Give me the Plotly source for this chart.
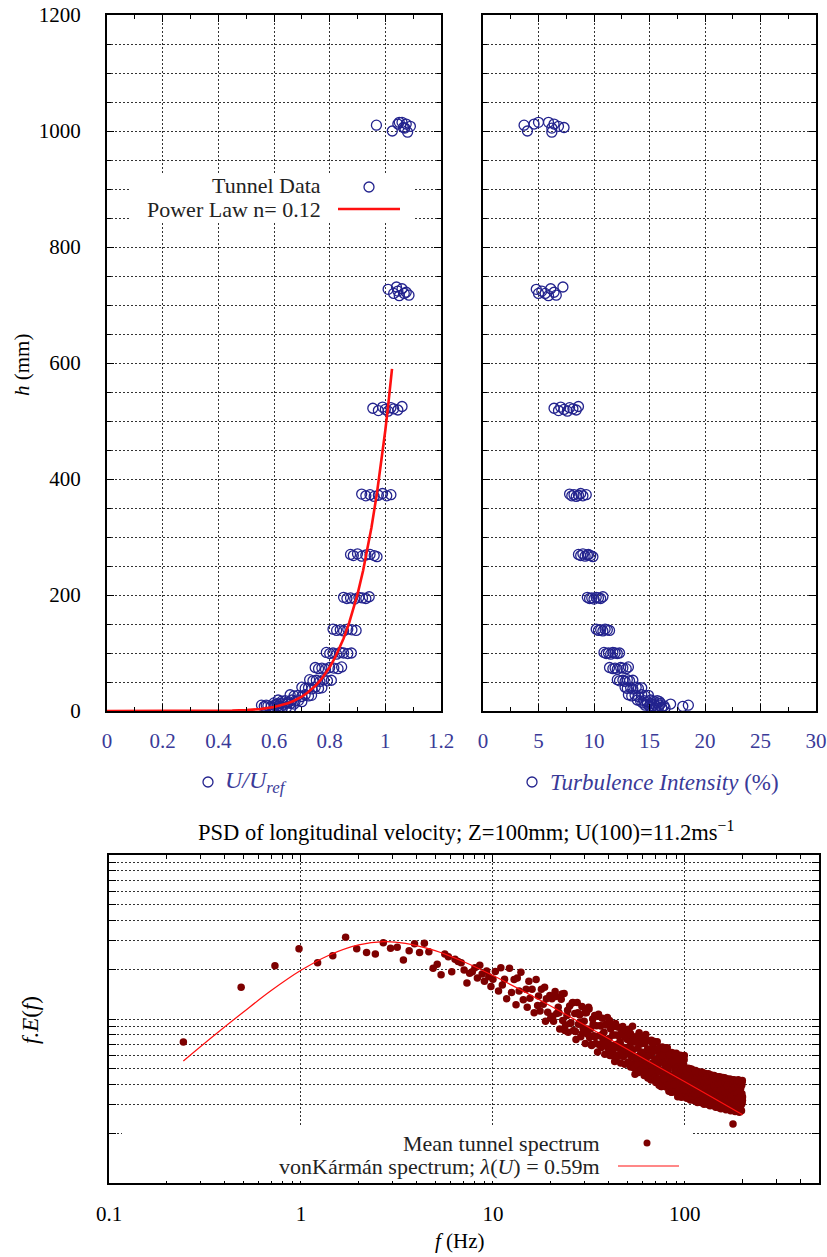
import plotly.graph_objects as go

W, H = 827, 1257
FONT = "Liberation Serif"
BLUE_MK = "#23238e"
BLUE_TX = "#3a3a98"
RED = "#ff1010"
MAROON = "#7d0000"
GRID = "#333333"

# ---------------- Top panels: tunnel profile data ----------------
h_mm = [1010, 1000, 1012, 1015, 1015, 1005, 1012, 998, 1008, 1006,
        727, 720, 724, 716, 728, 722, 717, 731, 720,
        522, 518, 524, 520, 517, 523, 521, 519, 525,
        374, 371, 373, 370, 372, 375, 371, 373,
        270, 268, 271, 267, 269, 270, 268, 266,
        196, 194, 195, 193, 196, 195, 194, 197,
        141, 139, 140, 138, 141, 140, 139,
        101, 99, 100, 98, 101, 100, 99, 100,
        75, 73, 74, 72, 75, 74, 73, 76,
        54, 52, 53, 51, 54, 52, 53,
        41, 39, 40, 38, 41, 39, 40,
        28, 26, 27, 25, 28, 26, 27,
        19, 17, 18, 16, 19, 17, 18, 16,
        14, 12, 13, 12, 14, 13, 12,
        10, 8, 9, 8, 10, 9, 8, 10,
        6, 4, 5, 6, 5]
U_ratio = [0.968, 1.025, 1.045, 1.050, 1.060, 1.070, 1.075, 1.080, 1.090, 1.065,
           1.010, 1.030, 1.045, 1.050, 1.060, 1.075, 1.085, 1.040, 1.068,
           0.955, 0.975, 0.990, 1.000, 1.010, 1.020, 1.030, 1.045, 1.060,
           0.915, 0.930, 0.945, 0.960, 0.975, 0.990, 1.005, 1.020,
           0.875, 0.885, 0.900, 0.915, 0.930, 0.945, 0.960, 0.970,
           0.850, 0.862, 0.875, 0.890, 0.905, 0.918, 0.930, 0.942,
           0.812, 0.825, 0.838, 0.850, 0.865, 0.880, 0.895,
           0.788, 0.800, 0.812, 0.825, 0.838, 0.850, 0.865, 0.878,
           0.748, 0.760, 0.772, 0.785, 0.800, 0.815, 0.830, 0.843,
           0.728, 0.740, 0.752, 0.765, 0.778, 0.792, 0.806,
           0.700, 0.712, 0.724, 0.736, 0.748, 0.760, 0.772,
           0.658, 0.672, 0.686, 0.700, 0.712, 0.724, 0.735,
           0.615, 0.628, 0.640, 0.652, 0.664, 0.676, 0.688, 0.700,
           0.600, 0.612, 0.624, 0.636, 0.648, 0.660, 0.672,
           0.555, 0.565, 0.578, 0.590, 0.602, 0.614, 0.626, 0.572,
           0.600, 0.615, 0.630, 0.645, 0.660]
TI_pct = [3.7, 4.0, 4.6, 5.0, 5.9, 6.2, 6.4, 6.2, 6.8, 7.3,
          4.8, 5.0, 5.3, 5.9, 6.1, 6.4, 6.6, 7.2, 5.6,
          6.4, 6.8, 7.0, 7.3, 7.6, 7.8, 8.1, 8.4, 8.6,
          7.8, 8.0, 8.2, 8.4, 8.6, 8.8, 9.0, 9.3,
          8.6, 8.8, 9.0, 9.2, 9.4, 9.5, 9.7, 9.9,
          9.4, 9.6, 9.8, 10.0, 10.2, 10.4, 10.6, 10.8,
          10.2, 10.4, 10.6, 10.8, 11.0, 11.2, 11.4,
          10.9, 11.1, 11.3, 11.5, 11.7, 11.9, 12.1, 12.3,
          11.4, 11.7, 11.9, 12.1, 12.4, 12.6, 12.9, 13.1,
          12.1, 12.3, 12.6, 12.8, 13.0, 13.2, 13.5,
          12.8, 13.0, 13.3, 13.5, 13.8, 14.0, 14.3,
          13.1, 13.4, 13.7, 14.0, 14.3, 14.6, 14.9,
          13.9, 14.2, 14.5, 14.8, 15.1, 15.4, 15.7, 15.9,
          14.4, 14.8, 15.1, 15.4, 15.7, 16.0, 16.9,
          14.6, 15.0, 15.3, 15.6, 15.9, 16.3, 18.0, 18.5,
          15.2, 15.5, 15.8, 16.1, 16.4]

# Power law fit (n = 0.12)
pl_U = [0, 0.2, 0.3, 0.4, 0.45, 0.5, 0.55, 0.6, 0.62, 0.65, 0.67, 0.7, 0.72, 0.75,
        0.77, 0.8, 0.82, 0.85, 0.87, 0.9, 0.92, 0.95, 0.97, 0.99, 1.0, 1.01, 1.024]
pl_h = [0, 0.001, 0.02, 0.23, 0.63, 1.5, 3.3, 6.9, 9.0, 13.4, 17.2, 24.8, 31.4, 44,
        54.9, 75.5, 92.7, 125, 151.8, 201, 241.7, 316, 375.8, 445.4, 484, 526, 590]

# ---------------- Bottom panel: spectrum ----------------
spec_f_lo = [0.244, 0.488, 0.732, 0.977, 1.221, 1.465, 1.709, 1.953, 2.197, 2.441,
             2.686, 2.930, 3.174, 3.418, 3.662, 3.906, 4.150, 4.395, 4.639, 4.883,
             5.127, 5.371, 5.615, 5.859, 6.104, 6.348, 6.592, 6.836, 7.080, 7.324,
             7.568, 7.813, 8.057, 8.301, 8.545, 8.789, 9.033, 9.277, 9.521, 9.766, 10.01]
spec_v_lo = [.0724, .156, .211, .268, .220, .243, .315, .268, .254, .249,
             .292, .270, .274, .229, .261, .288, .254, .290, .257, .204,
             .216, .186, .249, .240, .194, .231, .224, .220, .199, .166,
             .190, .194, .205, .178, .213, .188, .170, .196, .181, .158, .175]

spec_f_10 = [10.3, 10.7, 11.0, 11.2, 11.5, 11.8, 12.2, 12.5, 12.9, 13.2,
             13.4, 13.7, 14.0, 14.4, 14.9, 15.1, 15.4, 15.6, 16.0, 16.4,
             16.8, 17.1, 17.3, 17.6, 17.9, 18.3, 18.6, 18.8, 19.0, 19.3, 19.8, 20.0]
spec_v_10 = [.195, .148, .205, .161, .175, .133, .204, .145, .174, .122,
             .178, .148, .193, .131, .152, .118, .170, .134, .152, .109,
             .174, .121, .138, .112, .152, .123, .156, .097, .133, .110, .139, .101]

spec_f_20 = [20.3, 20.7, 21.1, 21.5, 21.9, 22.3, 22.7, 23.1, 23.5, 23.9,
             24.3, 24.7, 25.1, 25.5, 25.9, 26.3, 26.7, 27.1, 27.5, 27.9,
             28.3, 28.7, 29.1, 29.5, 29.9, 30.3, 30.7, 31.1, 31.5, 31.9,
             32.3, 32.7, 33.1, 33.5, 33.9, 34.3, 34.7, 35.1, 35.5, 35.9,
             36.3, 36.7, 37.1, 37.5, 37.9, 38.3, 38.7, 39.1, 39.5, 39.9,
             40.3, 40.7, 41.1, 41.5, 41.9, 42.3, 42.7, 43.1, 43.5, 43.9,
             44.3, 44.7, 45.1, 45.5, 45.9, 46.3, 46.7, 47.1, 47.5, 47.9,
             48.3, 48.7, 49.1, 49.5, 49.9,
             20.5, 21.3, 22.1, 22.9, 23.7, 24.5, 25.3, 26.1, 26.9, 27.7,
             28.5, 29.3, 30.1, 30.9, 31.7, 32.5, 33.3, 34.1, 34.9, 35.7,
             36.5, 37.3, 38.1, 38.9, 39.7, 40.5, 41.3, 42.1, 42.9, 43.7,
             44.5, 45.3, 46.1, 46.9, 47.7, 48.5, 49.3]
spec_v_20 = [.133, .097, .147, .108, .118, .087, .132, .098, .143, .092,
             .105, .083, .120, .095, .125, .085, .108, .075, .126, .093,
             .106, .078, .119, .088, .097, .071, .109, .081, .118, .077,
             .087, .069, .100, .079, .105, .071, .091, .063, .107, .079,
             .091, .067, .101, .075, .083, .061, .093, .069, .102, .066,
             .076, .060, .087, .069, .092, .062, .080, .055, .094, .070,
             .080, .059, .089, .066, .073, .054, .082, .061, .090, .059,
             .067, .053, .077, .061, .081,
             .104, .137, .109, .142, .085, .113, .094, .126, .084, .109,
             .096, .082, .109, .087, .115, .070, .093, .078, .104, .070,
             .091, .081, .069, .092, .074, .098, .060, .080, .067, .090,
             .060, .079, .071, .060, .081, .065, .086]

spec_f_50 = [50.2, 50.6, 51.0, 51.4, 51.8, 52.2, 52.6, 53.0, 53.4, 53.8, 54.2, 54.6,
             55.0, 55.4, 55.8, 56.2, 56.6, 57.0, 57.4, 57.8, 58.2, 58.6, 59.0, 59.4, 59.8,
             60.2, 60.6, 61.0, 61.4, 61.8, 62.2, 62.6, 63.0, 63.4, 63.8, 64.2, 64.6,
             65.0, 65.4, 65.8, 66.2, 66.6, 67.0, 67.4, 67.8, 68.2, 68.6, 69.0, 69.4, 69.8,
             70.2, 70.6, 71.0, 71.4, 71.8, 72.2, 72.6, 73.0, 73.4, 73.8, 74.2, 74.6,
             75.0, 75.4, 75.8, 76.2, 76.6, 77.0, 77.4, 77.8, 78.2, 78.6, 79.0, 79.4, 79.8,
             80.2, 80.6, 81.0, 81.4, 81.8, 82.2, 82.6, 83.0, 83.4, 83.8, 84.2, 84.6,
             85.0, 85.4, 85.8, 86.2, 86.6, 87.0, 87.4, 87.8, 88.2, 88.6, 89.0, 89.4, 89.8,
             90.2, 90.6, 91.0, 91.4, 91.8, 92.2, 92.6, 93.0, 93.4, 93.8, 94.2, 94.6,
             95.0, 95.4, 95.8, 96.2, 96.6, 97.0, 97.4, 97.8, 98.2, 98.6, 99.0, 99.4, 99.8,
             50.4, 51.2, 52.0, 52.8, 53.6, 54.4, 55.2, 56.0, 56.8, 57.6, 58.4, 59.2,
             60.0, 60.8, 61.6, 62.4, 63.2, 64.0, 64.8, 65.6, 66.4, 67.2, 68.0, 68.8, 69.6,
             70.4, 71.2, 72.0, 72.8, 73.6, 74.4, 75.2, 76.0, 76.8, 77.6, 78.4, 79.2,
             80.0, 80.8, 81.6, 82.4, 83.2, 84.0, 84.8, 85.6, 86.4, 87.2, 88.0, 88.8, 89.6,
             90.4, 91.2, 92.0, 92.8, 93.6, 94.4, 95.2, 96.0, 96.8, 97.6, 98.4, 99.2]
spec_v_50 = [.0750, .0547, .0865, .0617, .0687, .0509, .0795, .0585, .0903, .0649, .0534, .0725,
             .0460, .0777, .0568, .0724, .0526, .0664, .0472, .0825, .0598, .0538, .0759, .0706, .0514,
             .0770, .0549, .0611, .0453, .0708, .0521, .0804, .0577, .0475, .0645, .0436, .0736,
             .0510, .0650, .0473, .0596, .0424, .0741, .0537, .0483, .0682, .0634, .0462, .0730, .0521,
             .0553, .0410, .0640, .0471, .0727, .0522, .0430, .0584, .0394, .0666, .0486, .0620,
             .0431, .0544, .0387, .0676, .0490, .0441, .0622, .0578, .0421, .0666, .0475, .0529, .0392,
             .0588, .0432, .0667, .0479, .0395, .0536, .0362, .0611, .0447, .0569, .0414, .0522,
             .0357, .0624, .0452, .0407, .0574, .0533, .0389, .0615, .0438, .0488, .0362, .0565, .0416,
             .0619, .0445, .0366, .0497, .0336, .0567, .0414, .0528, .0384, .0484, .0344, .0602,
             .0421, .0379, .0535, .0497, .0362, .0573, .0408, .0455, .0337, .0526, .0387, .0598, .0429,
             .0668, .0534, .0820, .0591, .0738, .0502, .0730, .0586, .0526, .0801, .0604, .0490,
             .0628, .0594, .0475, .0730, .0526, .0657, .0447, .0655, .0526, .0473, .0720, .0542, .0440,
             .0568, .0538, .0430, .0660, .0476, .0594, .0387, .0598, .0480, .0431, .0657, .0495,
             .0385, .0522, .0494, .0395, .0606, .0437, .0545, .0357, .0551, .0443, .0398, .0606, .0457,
             .0358, .0484, .0458, .0366, .0562, .0405, .0488, .0333, .0514, .0413, .0370, .0564]

spec_f_100 = [100.3, 100.8, 101.3, 101.8, 102.3, 102.8, 103.3, 103.8, 104.3, 104.8,
              105.3, 105.8, 106.3, 106.8, 107.3, 107.8, 108.3, 108.8, 109.3, 109.8,
              110.3, 110.8, 111.3, 111.8, 112.3, 112.8, 113.3, 113.8, 114.3, 114.8,
              115.3, 115.8, 116.3, 116.8, 117.3, 117.8, 118.3, 118.8, 119.3, 119.8,
              120.3, 120.8, 121.3, 121.8, 122.3, 122.8, 123.3, 123.8, 124.3, 124.8,
              125.3, 125.8, 126.3, 126.8, 127.3, 127.8, 128.3, 128.8, 129.3, 129.8,
              130.3, 130.8, 131.3, 131.8, 132.3, 132.8, 133.3, 133.8, 134.3, 134.8,
              135.3, 135.8, 136.3, 136.8, 137.3, 137.8, 138.3, 138.8, 139.3, 139.8,
              140.3, 140.8, 141.3, 141.8, 142.3, 142.8, 143.3, 143.8, 144.3, 144.8,
              145.3, 145.8, 146.3, 146.8, 147.3, 147.8, 148.3, 148.8, 149.3, 149.8,
              150.3, 150.8, 151.3, 151.8, 152.3, 152.8, 153.3, 153.8, 154.3, 154.8,
              155.3, 155.8, 156.3, 156.8, 157.3, 157.8, 158.3, 158.8, 159.3, 159.8,
              160.3, 160.8, 161.3, 161.8, 162.3, 162.8, 163.3, 163.8, 164.3, 164.8,
              165.3, 165.8, 166.3, 166.8, 167.3, 167.8, 168.3, 168.8, 169.3, 169.8,
              170.3, 170.8, 171.3, 171.8, 172.3, 172.8, 173.3, 173.8, 174.3, 174.8,
              175.3, 175.8, 176.3, 176.8, 177.3, 177.8, 178.3, 178.8, 179.3, 179.8,
              180.3, 180.8, 181.3, 181.8, 182.3, 182.8, 183.3, 183.8, 184.3, 184.8,
              185.3, 185.8, 186.3, 186.8, 187.3, 187.8, 188.3, 188.8, 189.3, 189.8,
              190.3, 190.8, 191.3, 191.8, 192.3, 192.8, 193.3, 193.8, 194.3, 194.8,
              195.3, 195.8, 196.3, 196.8, 197.3, 197.8, 198.3, 198.8, 199.3, 199.8,
              178.2,
              100.55, 101.55, 102.55, 103.55, 104.55, 105.55, 106.55, 107.55, 108.55, 109.55,
              110.55, 111.55, 112.55, 113.55, 114.55, 115.55, 116.55, 117.55, 118.55, 119.55,
              120.55, 121.55, 122.55, 123.55, 124.55, 125.55, 126.55, 127.55, 128.55, 129.55,
              130.55, 131.55, 132.55, 133.55, 134.55, 135.55, 136.55, 137.55, 138.55, 139.55,
              140.55, 141.55, 142.55, 143.55, 144.55, 145.55, 146.55, 147.55, 148.55, 149.55,
              150.55, 151.55, 152.55, 153.55, 154.55, 155.55, 156.55, 157.55, 158.55, 159.55,
              160.55, 161.55, 162.55, 163.55, 164.55, 165.55, 166.55, 167.55, 168.55, 169.55,
              170.55, 171.55, 172.55, 173.55, 174.55, 175.55, 176.55, 177.55, 178.55, 179.55,
              180.55, 181.55, 182.55, 183.55, 184.55, 185.55, 186.55, 187.55, 188.55, 189.55,
              190.55, 191.55, 192.55, 193.55, 194.55, 195.55, 196.55, 197.55, 198.55, 199.55]
spec_v_100 = [.0449, .0353, .0489, .0385, .0329, .0469, .0417, .0365, .0501, .0397,
              .0341, .0457, .0429, .0321, .0481, .0405, .0373, .0493, .0389, .0449,
              .0341, .0473, .0372, .0318, .0454, .0404, .0353, .0485, .0384, .0330,
              .0442, .0415, .0310, .0466, .0392, .0361, .0477, .0376, .0435, .0341,
              .0461, .0363, .0310, .0442, .0393, .0344, .0473, .0374, .0321, .0431,
              .0404, .0302, .0454, .0382, .0352, .0465, .0367, .0423, .0333, .0461,
              .0355, .0303, .0433, .0385, .0337, .0463, .0366, .0315, .0422, .0396,
              .0296, .0444, .0374, .0344, .0455, .0359, .0414, .0326, .0451, .0355,
              .0297, .0424, .0376, .0329, .0453, .0358, .0308, .0413, .0387, .0290,
              .0434, .0366, .0337, .0445, .0351, .0405, .0319, .0442, .0348, .0297,
              .0415, .0369, .0323, .0444, .0351, .0302, .0405, .0380, .0284, .0426,
              .0359, .0330, .0437, .0344, .0398, .0312, .0433, .0341, .0291, .0415,
              .0364, .0319, .0438, .0347, .0298, .0399, .0375, .0280, .0420, .0354,
              .0326, .0431, .0340, .0392, .0308, .0427, .0336, .0287, .0410, .0364,
              .0314, .0431, .0342, .0293, .0393, .0369, .0276, .0414, .0348, .0321,
              .0424, .0335, .0386, .0304, .0421, .0331, .0283, .0404, .0359, .0314,
              .0426, .0338, .0290, .0389, .0365, .0273, .0409, .0344, .0317, .0419,
              .0331, .0382, .0300, .0416, .0327, .0280, .0399, .0355, .0310, .0426,
              .0334, .0286, .0384, .0361, .0270, .0404, .0340, .0313, .0415, .0327,
              .0377, .0297, .0411, .0324, .0276, .0394, .0350, .0307, .0421, .0334,
              .0229,
              .0369, .0485, .0413, .0333, .0461, .0389, .0497, .0353, .0433, .0341,
              .0458, .0388, .0349, .0473, .0369, .0435, .0314, .0357, .0469, .0400,
              .0314, .0435, .0367, .0469, .0333, .0408, .0321, .0446, .0378, .0340,
              .0451, .0352, .0414, .0300, .0340, .0448, .0381, .0307, .0426, .0359,
              .0449, .0319, .0391, .0308, .0427, .0362, .0326, .0442, .0344, .0405,
              .0288, .0327, .0430, .0366, .0295, .0408, .0344, .0440, .0312, .0383,
              .0298, .0413, .0350, .0315, .0427, .0333, .0392, .0284, .0322, .0424,
              .0355, .0286, .0397, .0335, .0428, .0304, .0373, .0293, .0407, .0345,
              .0307, .0416, .0324, .0382, .0276, .0314, .0413, .0351, .0283, .0392,
              .0327, .0418, .0297, .0364, .0286, .0398, .0337, .0303, .0411, .0320]

# von Karman spectrum (lambda = 0.59 m)
vk_f = [0.244, 0.35, 0.5, 0.7, 1.0, 1.4, 2.0, 2.7, 3.5, 5, 7, 10, 15, 20, 30, 50, 70, 100, 150, 200]
vk_v = [0.0555, 0.0788, 0.110, 0.149, 0.198, 0.245, 0.283, 0.296, 0.289, 0.261,
        0.224, 0.184, 0.144, 0.120, 0.092, 0.0656, 0.0524, 0.0414, 0.0316, 0.0261]

spec_f = spec_f_lo + spec_f_10 + spec_f_20 + spec_f_50 + spec_f_100
spec_v = spec_v_lo + spec_v_10 + spec_v_20 + spec_v_50 + spec_v_100


def px(x):
    return x / W


def py(y):
    return 1 - y / H


fig = go.Figure()
fig.add_trace(go.Scatter(x=U_ratio, y=h_mm, mode="markers", xaxis="x", yaxis="y",
                         marker=dict(symbol="circle-open", size=10, color=BLUE_MK,
                                     line=dict(width=1.3, color=BLUE_MK)),
                         showlegend=False))
fig.add_trace(go.Scatter(x=pl_U, y=pl_h, mode="lines", xaxis="x", yaxis="y",
                         line=dict(color=RED, width=2.6), showlegend=False))
fig.add_trace(go.Scatter(x=TI_pct, y=h_mm, mode="markers", xaxis="x2", yaxis="y2",
                         marker=dict(symbol="circle-open", size=10, color=BLUE_MK,
                                     line=dict(width=1.3, color=BLUE_MK)),
                         showlegend=False))
fig.add_trace(go.Scatter(x=spec_f, y=spec_v, mode="markers", xaxis="x3", yaxis="y3",
                         marker=dict(symbol="circle", size=7.5, color=MAROON, line=dict(width=0)),
                         showlegend=False))
fig.add_trace(go.Scatter(x=vk_f, y=vk_v, mode="lines", xaxis="x3", yaxis="y3",
                         line=dict(color=RED, width=1.2, shape="spline"), showlegend=False))

tickfont_black = dict(family=FONT, size=21, color="black")
tickfont_blue = dict(family=FONT, size=21, color=BLUE_TX)
grid = dict(showgrid=True, gridcolor=GRID, griddash="2px,2px", gridwidth=1, zeroline=False,
            showline=True, linecolor="black", linewidth=2, mirror="ticks",
            ticks="inside", ticklen=7, tickcolor="black", tickwidth=1, automargin=False)

fig.update_layout(
    width=W, height=H, margin=dict(l=0, r=0, t=0, b=0, autoexpand=False),
    paper_bgcolor="white", plot_bgcolor="white", showlegend=False,
    font=dict(family=FONT, size=20, color="black"),
    xaxis=dict(domain=[px(107), px(441)], range=[0, 1.2], dtick=0.2, tick0=0, anchor="y",
               minor=dict(dtick=0.1, ticks="inside", ticklen=4, showgrid=False),
               tickfont=tickfont_blue, ticklabelstandoff=10, **grid),
    yaxis=dict(domain=[py(711), py(15)], range=[0, 1200], dtick=200, tick0=0, anchor="x",
               minor=dict(dtick=50, ticks="inside", ticklen=4, showgrid=True,
                          gridcolor=GRID, griddash="2px,2px", gridwidth=1),
               tickfont=tickfont_black, ticklabelstandoff=20, **grid),
    xaxis2=dict(domain=[px(483), px(816)], range=[0, 30], dtick=5, tick0=0, anchor="y2",
                minor=dict(dtick=2.5, ticks="inside", ticklen=4, showgrid=False),
                tickfont=tickfont_blue, ticklabelstandoff=10, **grid),
    yaxis2=dict(domain=[py(711), py(15)], range=[0, 1200], dtick=200, tick0=0, anchor="x2",
                minor=dict(dtick=50, ticks="inside", ticklen=4, showgrid=True,
                           gridcolor=GRID, griddash="2px,2px", gridwidth=1),
                showticklabels=False, **grid),
    xaxis3=dict(domain=[px(109), px(819)], type="log", range=[-1, 2.69897], anchor="y3",
                tickvals=[0.1, 1, 10, 100], ticktext=["0.1", "1", "10", "100"],
                minor=dict(tickvals=[0.2, 0.3, 0.4, 0.5, 0.6, 0.7, 0.8, 0.9,
                                     2, 3, 4, 5, 6, 7, 8, 9,
                                     20, 30, 40, 50, 60, 70, 80, 90,
                                     200, 300, 400],
                           ticks="inside", ticklen=4, showgrid=False),
                tickfont=tickfont_black, ticklabelstandoff=11, **grid),
    yaxis3=dict(domain=[py(1183), py(855)], type="log", range=[-2, 0], anchor="x3",
                tickvals=[0.01, 0.02, 0.03, 0.04, 0.05, 0.06, 0.07, 0.08, 0.09,
                          0.1, 0.2, 0.3, 0.4, 0.5, 0.6, 0.7, 0.8, 0.9, 1.0],
                showticklabels=False, **grid),
)


def ann(x, y, s, size=20, color="black", xanchor="center", angle=0):
    return dict(x=px(x), y=py(y), xref="paper", yref="paper", text=s, showarrow=False,
                font=dict(family=FONT, size=size, color=color), xanchor=xanchor,
                yanchor="middle", textangle=angle)


annotations = [
    ann(22, 365, "<i>h</i> (mm)", 21, angle=-90),
    ann(223, 782, "<i>U/U</i><sub><i>ref</i></sub>", 24, BLUE_TX, "left"),
    ann(548, 782, "<i>Turbulence Intensity</i> (%)", 23, BLUE_TX, "left"),
    ann(466, 831, "PSD of longitudinal velocity; Z=100mm; U(100)=11.2ms<sup>−1</sup>", 22.5),
    ann(30, 1020, "<i>f.E</i>(<i>f</i>)", 23, angle=-90),
    ann(460, 1241, "<i>f</i> (Hz)", 21),
    ann(323, 186, "Tunnel Data", 22, "#222", "right"),
    ann(323, 209, "Power Law n= 0.12", 22, "#222", "right"),
    ann(602, 1143, "Mean tunnel spectrum", 22, "#222", "right"),
    ann(602, 1166, "vonKármán spectrum; <i>λ</i>(<i>U</i>) = 0.59m", 22, "#222", "right"),
]


def rect(x0, y0, x1, y1):
    return dict(type="rect", xref="paper", yref="paper", x0=px(x0), x1=px(x1),
                y0=py(y1), y1=py(y0), fillcolor="white", line=dict(width=0), layer="above")


def circ(cx, cy, r, color, fill=None, lw=1.3):
    return dict(type="circle", xref="paper", yref="paper", x0=px(cx - r), x1=px(cx + r),
                y0=py(cy + r), y1=py(cy - r), line=dict(color=color, width=lw),
                fillcolor=fill if fill else "rgba(0,0,0,0)", layer="above")


def hline(x0, x1, y, color, w):
    return dict(type="line", xref="paper", yref="paper", x0=px(x0), x1=px(x1),
                y0=py(y), y1=py(y), line=dict(color=color, width=w), layer="above")


shapes = [
    rect(130, 175, 413, 222),
    circ(369, 187, 5, BLUE_MK),
    hline(338, 400, 209, RED, 2.6),
    rect(122, 1127, 692, 1181),
    circ(647, 1143, 3.5, MAROON, MAROON, 0),
    hline(618, 679, 1166, RED, 1.2),
    circ(208, 782, 5, BLUE_MK),
    circ(532, 782, 5, BLUE_MK),
]

fig.update_layout(annotations=annotations, shapes=shapes)
fig.write_html("out.html")
